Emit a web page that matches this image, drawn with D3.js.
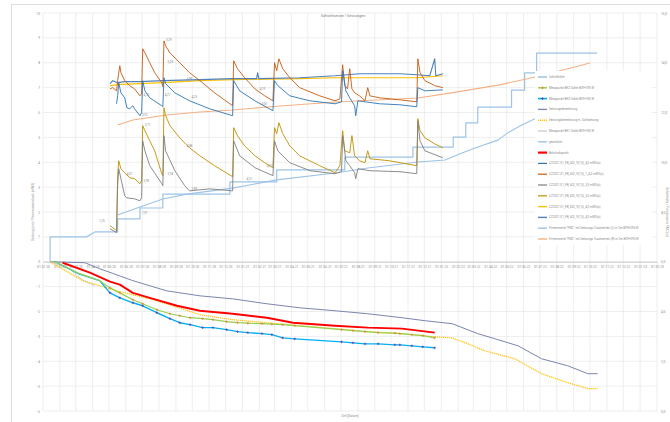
<!DOCTYPE html>
<html>
<head>
<meta charset="utf-8">
<script src="https://cdn.jsdelivr.net/npm/d3@7"></script>
<style>
  html, body { margin: 0; padding: 0; background: #fff; }
  svg { display: block; font-family: Roboto, "Open Sans", sans-serif; }
</style>
</head>
<body>
<svg id="chart" width="670" height="422"></svg>
<script>
// ---- DATA ----
const xStart = '2020-01-01';
const xEnd = '2023-02-01';
const leftTicks = d3.range(-6, 11);
const rightTicks = d3.range(0, 17, 2);

const chartTitle = 'Schichtsetzer | Setzungen';
const leftTitle = 'Setzung [cm] / Porenwasserdruck [mWS]';
const rightTitle = 'Schütthöhe / Firmenwerte FMC [m]';
const xTitle = 'Zeit [Datum]';

const legendNames = [
  'Schütthöhe',
  'Messpunkt BK2 Sohle 809+395 W',
  'Messpunkt BK3 Sohle 809+395 W',
  'Setzungsberechnung',
  'Setzungsberechnung m. Sohlsetzung',
  'Messpunkt BK1 Sohle 809+395 W',
  'geschätzt',
  'Bohrlochpunkt',
  'CZ2021.01_FB_k02_9(7,0)_4,0 mWS(s)',
  'CZ2021.01_FB_k02_9(7,0)_1_4,0 mWS(s)',
  'CZ2021.01_FB_k02_9(7,0)_3,0 mWS(s)',
  'CZ2021.01_FB_k02_9(7,0)_3,0 mWS(s)',
  'CZ2021.01_FB_k02_9(7,0)_4,0 mWS(s)',
  'CZ2021.01_FB_k02_9(7,0)_4,0 mWS(s)',
  'Firmenwerte "FMC" mit Setzungs-/Lastwerten (L) in 3m 809+395 W',
  'Firmenwerte "FMC" mit Setzungs-/Lastwerten (R) in 3m 809+395 W'
];

// right axis
const schuetthoehe = [
  ['2020-01-14', 6.0], ['2020-01-14', 7.0], ['2020-03-21', 7.0], ['2020-04-05', 7.2],
  ['2020-05-17', 7.2], ['2020-05-17', 7.72], ['2020-06-27', 7.72], ['2020-06-27', 8.16],
  ['2020-08-08', 8.16], ['2020-08-08', 8.72], ['2020-12-09', 8.72], ['2020-12-09', 9.21],
  ['2021-03-05', 9.21], ['2021-03-05', 9.69], ['2021-07-08', 9.69], ['2021-07-08', 10.21],
  ['2021-11-10', 10.21], ['2021-11-10', 10.61], ['2022-01-23', 10.61], ['2022-01-23', 11.01],
  ['2022-02-15', 11.01], ['2022-02-15', 11.58], ['2022-03-09', 11.58], ['2022-03-09', 12.22],
  ['2022-05-10', 12.22], ['2022-05-10', 12.9], ['2022-06-03', 12.9], ['2022-06-03', 13.59],
  ['2022-06-25', 13.59], ['2022-06-25', 14.39], ['2022-10-14', 14.39]
];
const fmcBlue = [
  ['2020-05-17', 7.88], ['2020-06-27', 8.2], ['2020-08-08', 8.52], ['2020-09-21', 8.72],
  ['2020-12-14', 8.96], ['2021-03-05', 9.29], ['2021-06-20', 9.57], ['2021-08-19', 9.77],
  ['2021-11-19', 10.01], ['2022-01-08', 10.09], ['2022-02-08', 10.37], ['2022-03-09', 10.61],
  ['2022-04-15', 10.89], ['2022-05-03', 11.18], ['2022-05-29', 11.5], ['2022-06-25', 11.78]
];
const fmcOrange = [
  ['2020-05-17', 11.5], ['2020-06-14', 11.7], ['2020-08-15', 11.9], ['2020-10-15', 12.02],
  ['2020-12-14', 12.1], ['2021-02-15', 12.22], ['2021-06-20', 12.42], ['2021-11-19', 12.58],
  ['2022-01-17', 12.78], ['2022-04-18', 13.11], ['2022-07-01', 13.47], ['2022-10-01', 13.99]
];

// left axis: piezometers
const czBlue = [
  ['2020-05-15', 6.35], ['2020-05-17', 6.67], ['2020-05-19', 7.2], ['2020-05-23', 6.79],
  ['2020-05-30', 6.59], ['2020-06-03', 6.19], ['2020-06-08', 6.15], ['2020-06-14', 6.27],
  ['2020-06-17', 6.15], ['2020-06-27', 5.87], ['2020-06-30', 5.99], ['2020-07-02', 7.28],
  ['2020-07-06', 6.87], ['2020-07-15', 6.59], ['2020-08-06', 6.27], ['2020-08-08', 6.23],
  ['2020-08-10', 7.4], ['2020-08-13', 7.16], ['2020-08-30', 6.79], ['2020-09-26', 6.47],
  ['2020-11-02', 6.15], ['2020-12-14', 5.87], ['2020-12-16', 7.28], ['2020-12-27', 6.87],
  ['2021-01-24', 6.47], ['2021-02-26', 6.07], ['2021-03-01', 7.28], ['2021-03-07', 7.08],
  ['2021-03-29', 6.67], ['2021-05-05', 6.47], ['2021-06-20', 6.35], ['2021-07-02', 6.43],
  ['2021-07-04', 7.68], ['2021-07-10', 6.87], ['2021-07-17', 6.59], ['2021-07-26', 6.27],
  ['2021-07-28', 5.87], ['2021-08-01', 6.47], ['2021-08-14', 6.43], ['2021-09-10', 6.35],
  ['2021-10-17', 6.31], ['2021-11-17', 6.23], ['2021-11-19', 7.0], ['2021-12-02', 6.87],
  ['2022-01-04', 6.91]
];
const czBrown = [
  ['2020-05-03', 6.95], ['2020-05-08', 7.0], ['2020-05-15', 6.87], ['2020-05-17', 7.28],
  ['2020-05-21', 7.88], ['2020-05-23', 7.6], ['2020-05-30', 7.28], ['2020-06-08', 7.08],
  ['2020-06-17', 6.95], ['2020-06-27', 6.67], ['2020-06-30', 6.75], ['2020-07-02', 8.56],
  ['2020-07-06', 8.4], ['2020-07-15', 8.0], ['2020-07-24', 7.6], ['2020-08-06', 7.2],
  ['2020-08-08', 7.04], ['2020-08-10', 8.88], ['2020-08-13', 8.68], ['2020-08-21', 8.4],
  ['2020-09-08', 8.0], ['2020-09-26', 7.6], ['2020-10-15', 7.28], ['2020-11-11', 6.79],
  ['2020-12-14', 6.27], ['2020-12-16', 8.08], ['2020-12-23', 7.76], ['2021-01-05', 7.4],
  ['2021-01-24', 6.95], ['2021-02-11', 6.67], ['2021-02-26', 6.47], ['2021-03-01', 8.0],
  ['2021-03-05', 7.68], ['2021-03-09', 8.16], ['2021-03-16', 7.76], ['2021-03-29', 7.4],
  ['2021-04-16', 7.0], ['2021-05-23', 6.67], ['2021-06-20', 6.47], ['2021-06-29', 6.55],
  ['2021-07-04', 7.92], ['2021-07-08', 7.08], ['2021-07-13', 6.95], ['2021-07-17', 7.76],
  ['2021-07-21', 6.95], ['2021-07-26', 6.79], ['2021-08-04', 6.67], ['2021-08-14', 6.47],
  ['2021-08-19', 7.0], ['2021-08-23', 6.67], ['2021-09-10', 6.59], ['2021-10-17', 6.51],
  ['2021-11-17', 6.43], ['2021-11-19', 8.16], ['2021-11-23', 7.6], ['2021-12-02', 7.28],
  ['2021-12-20', 7.08], ['2022-01-04', 7.0]
];
const czGray = [
  ['2020-05-03', 1.33], ['2020-05-15', 1.17], ['2020-05-17', 3.06], ['2020-05-19', 3.74],
  ['2020-05-23', 3.34], ['2020-05-30', 2.65], ['2020-06-03', 2.57], ['2020-06-17', 2.53],
  ['2020-06-27', 2.45], ['2020-06-30', 2.57], ['2020-07-02', 4.86], ['2020-07-06', 4.46],
  ['2020-07-15', 3.86], ['2020-08-06', 3.14], ['2020-08-08', 3.06], ['2020-08-10', 5.07],
  ['2020-08-13', 4.46], ['2020-08-30', 3.66], ['2020-09-17', 3.06], ['2020-09-26', 2.85],
  ['2020-11-02', 2.93], ['2020-12-14', 2.85], ['2020-12-16', 4.86], ['2020-12-27', 4.26],
  ['2021-01-24', 3.78], ['2021-02-26', 3.46], ['2021-03-01', 4.86], ['2021-03-07', 4.46],
  ['2021-03-29', 3.98], ['2021-05-05', 3.66], ['2021-06-20', 3.54], ['2021-07-02', 3.62],
  ['2021-07-04', 5.07], ['2021-07-10', 4.06], ['2021-07-17', 3.86], ['2021-07-26', 3.58],
  ['2021-07-28', 3.34], ['2021-08-01', 3.74], ['2021-08-23', 3.66], ['2021-10-17', 3.62],
  ['2021-11-17', 3.54], ['2021-11-19', 5.67], ['2021-11-23', 4.86], ['2021-12-02', 4.46],
  ['2022-01-04', 4.18]
];
const czGold = [
  ['2020-05-03', 1.45], ['2020-05-08', 1.37], ['2020-05-15', 1.25], ['2020-05-17', 3.46],
  ['2020-05-19', 4.06], ['2020-05-23', 3.74], ['2020-05-30', 3.58], ['2020-06-08', 3.38],
  ['2020-06-17', 3.34], ['2020-06-27', 3.14], ['2020-06-30', 3.26], ['2020-07-02', 5.47],
  ['2020-07-06', 5.27], ['2020-07-15', 4.86], ['2020-07-24', 4.46], ['2020-08-06', 3.54],
  ['2020-08-08', 3.46], ['2020-08-10', 6.19], ['2020-08-13', 5.87], ['2020-08-21', 5.47],
  ['2020-09-08', 4.98], ['2020-09-26', 4.58], ['2020-10-15', 4.26], ['2020-11-11', 3.86],
  ['2020-12-14', 3.42], ['2020-12-16', 5.39], ['2020-12-23', 5.07], ['2021-01-05', 4.66],
  ['2021-01-24', 4.26], ['2021-02-11', 3.98], ['2021-02-26', 3.78], ['2021-03-01', 5.39],
  ['2021-03-05', 5.15], ['2021-03-09', 5.59], ['2021-03-16', 5.15], ['2021-03-29', 4.66],
  ['2021-04-16', 4.26], ['2021-05-23', 3.86], ['2021-06-20', 3.58], ['2021-06-29', 3.86],
  ['2021-07-04', 5.27], ['2021-07-08', 4.46], ['2021-07-17', 4.38], ['2021-07-21', 5.07],
  ['2021-07-26', 4.26], ['2021-08-04', 4.06], ['2021-08-14', 3.98], ['2021-08-19', 4.46],
  ['2021-08-23', 4.14], ['2021-09-28', 4.06], ['2021-11-17', 3.86], ['2021-11-19', 5.75],
  ['2021-11-23', 5.27], ['2021-12-02', 4.98], ['2021-12-20', 4.74], ['2022-01-04', 4.58]
];
const czYellow = [
  ['2020-05-03', 7.08], ['2020-05-17', 7.12], ['2020-06-27', 7.16], ['2020-08-08', 7.2],
  ['2020-10-15', 7.28], ['2020-12-14', 7.32], ['2021-04-16', 7.36], ['2021-06-20', 7.4],
  ['2021-11-17', 7.4], ['2022-01-04', 7.48]
];
const czBlueFlat = [
  ['2020-05-03', 7.16], ['2020-05-08', 7.28], ['2020-05-17', 7.2], ['2020-05-30', 7.24],
  ['2020-06-27', 7.24], ['2020-08-08', 7.28], ['2020-10-15', 7.32], ['2020-12-14', 7.36],
  ['2021-01-27', 7.36], ['2021-01-29', 7.6], ['2021-01-31', 7.36], ['2021-04-16', 7.4],
  ['2021-06-20', 7.48], ['2021-08-04', 7.56], ['2021-10-17', 7.56], ['2021-11-17', 7.52],
  ['2021-12-11', 7.48], ['2021-12-20', 8.16], ['2021-12-22', 7.48], ['2022-01-04', 7.56]
];

// left axis: settlements
const setzungsberechnung = [
  ['2020-01-14', 0], ['2020-03-18', -0.04], ['2020-04-14', -0.28], ['2020-06-14', -0.76],
  ['2020-08-15', -1.17], ['2020-10-15', -1.37], ['2020-12-14', -1.49], ['2021-02-15', -1.69],
  ['2021-04-16', -1.85], ['2021-06-20', -1.97], ['2021-08-19', -2.09], ['2021-10-21', -2.25],
  ['2021-12-02', -2.37], ['2022-01-21', -2.49], ['2022-03-09', -2.89], ['2022-04-04', -3.06],
  ['2022-05-22', -3.38], ['2022-07-04', -3.9], ['2022-08-21', -4.18], ['2022-09-27', -4.5],
  ['2022-10-15', -4.5]
];
const setzungSohle = [
  ['2020-01-14', 0], ['2020-03-14', -0.76], ['2020-05-15', -1.17], ['2020-07-15', -1.49],
  ['2020-08-26', -1.77], ['2020-10-15', -2.13], ['2020-12-14', -2.33], ['2021-02-15', -2.45],
  ['2021-04-16', -2.57], ['2021-06-20', -2.69], ['2021-08-19', -2.81], ['2021-10-21', -2.89],
  ['2021-12-20', -3.02], ['2022-01-21', -3.06], ['2022-02-19', -3.3], ['2022-03-22', -3.58],
  ['2022-05-16', -3.9], ['2022-07-04', -4.5], ['2022-08-21', -4.86], ['2022-09-27', -5.1],
  ['2022-10-15', -5.1]
];
const bohrloch = [
  ['2020-02-06', -0.04], ['2020-03-27', -0.44], ['2020-05-03', -0.8], ['2020-05-21', -0.92],
  ['2020-06-14', -1.25], ['2020-07-15', -1.45], ['2020-09-03', -1.77], ['2020-10-15', -1.97],
  ['2020-12-14', -2.09], ['2021-02-15', -2.25], ['2021-04-04', -2.45], ['2021-06-20', -2.57],
  ['2021-08-19', -2.65], ['2021-10-21', -2.69], ['2021-12-20', -2.85]
];
const bk1 = [['2020-01-14', 0], ['2020-02-19', -0.28], ['2020-03-12', -0.72], ['2020-04-05', -0.96]];

const measureDates = [
  '2020-01-23', '2020-03-08', '2020-04-14', '2020-05-03', '2020-05-21', '2020-06-14',
  '2020-07-02', '2020-07-28', '2020-08-21', '2020-09-08', '2020-09-27', '2020-10-20',
  '2020-11-08', '2020-12-03', '2020-12-23', '2021-01-11', '2021-02-06', '2021-02-24',
  '2021-03-16', '2021-04-07', '2021-07-02', '2021-07-23', '2021-08-14', '2021-09-07',
  '2021-10-08', '2021-10-17', '2021-11-08', '2021-11-28', '2021-12-20'
];
const bk2Values = [0, -0.48, -0.76, -1.05, -1.25, -1.53, -1.69, -1.93, -2.09, -2.17, -2.25, -2.29,
  -2.33, -2.41, -2.45, -2.47, -2.49, -2.51, -2.53, -2.57, -2.73, -2.77, -2.81, -2.85, -2.87,
  -2.89, -2.93, -2.97, -3.06];
const bk3Values = [0, -0.5, -0.76, -1.25, -1.45, -1.65, -1.77, -2.05, -2.29, -2.45, -2.53, -2.65,
  -2.65, -2.73, -2.81, -2.85, -2.89, -2.93, -3.06, -3.1, -3.22, -3.26, -3.3, -3.3, -3.34,
  -3.34, -3.38, -3.42, -3.46];

const dataLabels = [
  ['2020-08-10', 8.88, '5,29'], ['2020-08-13', 8.0, '5,05'], ['2020-09-17', 7.3, '4,99'],
  ['2020-06-30', 6.67, '4,32'], ['2020-08-08', 6.67, '4,27'], ['2020-09-26', 6.6, '4,25'],
  ['2020-06-27', 5.87, '3,92'], ['2021-01-29', 6.9, '4,19'], ['2021-02-01', 6.3, '4,05'],
  ['2020-07-02', 5.47, '3,71'], ['2020-09-17', 4.6, '4,88'], ['2020-05-30', 3.5, '4,01'],
  ['2020-06-30', 3.2, '3,95'], ['2020-08-13', 3.5, '3,94'], ['2020-09-26', 2.9, '3,89'],
  ['2021-01-05', 3.3, '4,31'], ['2021-02-11', 3.8, '4,57'], ['2020-04-09', 1.6, '1,25'],
  ['2020-06-27', 1.9, '1,91']
];

// ---- CHART ----
const parse = d3.timeParse('%Y-%m-%d');
const svg = d3.select('#chart');
const plot = { left: 43, right: 657, top: 13, bottom: 411 };
const textColor = '#8c8c8c';

svg.append('rect').attr('width', 670).attr('height', 422).attr('fill', '#fff');
svg.append('rect')
  .attr('x', 11.5).attr('y', 4.5).attr('width', 700).attr('height', 430)
  .attr('fill', 'none').attr('stroke', '#dedede');

const x = d3.scaleTime().domain([parse(xStart), parse(xEnd)]).range([plot.left, plot.right]);
const yL = d3.scaleLinear().domain([-6, 10]).range([plot.bottom, plot.top]);
const yR = d3.scaleLinear().domain([0, 16]).range([plot.bottom, plot.top]);
const months = d3.timeMonth.range(parse(xStart), d3.timeDay.offset(parse(xEnd), 1));

// grid
const grid = svg.append('g').attr('stroke', '#e6e6e6').attr('stroke-width', 0.7);
grid.selectAll('line.h').data(leftTicks).join('line').attr('class', 'h')
  .attr('x1', plot.left).attr('x2', plot.right)
  .attr('y1', d => yL(d)).attr('y2', d => yL(d));
grid.selectAll('line.v').data(months).join('line').attr('class', 'v')
  .attr('x1', d => x(d)).attr('x2', d => x(d))
  .attr('y1', plot.top).attr('y2', plot.bottom);

// axes
const xAxis = svg.append('g')
  .attr('transform', `translate(0,${yL(0)})`)
  .call(d3.axisBottom(x).tickValues(months).tickFormat(d3.timeFormat('%d.%m.%y'))
    .tickSize(0).tickSizeOuter(0).tickPadding(3.5));
xAxis.select('.domain').attr('stroke', '#cccccc').attr('stroke-width', 1.2);

const leftAxis = svg.append('g')
  .attr('transform', `translate(${plot.left},0)`)
  .call(d3.axisLeft(yL).tickValues(leftTicks).tickSize(0).tickPadding(3));
leftAxis.select('.domain').remove();

const rightAxis = svg.append('g')
  .attr('transform', `translate(${plot.right},0)`)
  .call(d3.axisRight(yR).tickValues(rightTicks)
    .tickFormat(d => d.toFixed(1).replace('.', ',')).tickSize(0).tickPadding(4));
rightAxis.select('.domain').remove();

[xAxis, leftAxis, rightAxis].forEach(g => g
  .attr('font-family', null).attr('font-size', 3.3)
  .selectAll('text').attr('fill', textColor));

// titles
svg.append('text').attr('x', 343).attr('y', 17).attr('text-anchor', 'middle')
  .attr('font-size', 3.9).attr('fill', '#7f7f7f').text(chartTitle);
svg.append('text').attr('transform', `translate(34,${(plot.top + plot.bottom) / 2}) rotate(-90)`)
  .attr('text-anchor', 'middle').attr('font-size', 3.2).attr('fill', textColor).text(leftTitle);
svg.append('text').attr('transform', `translate(666,${(plot.top + plot.bottom) / 2}) rotate(90)`)
  .attr('text-anchor', 'middle').attr('font-size', 3.2).attr('fill', textColor).text(rightTitle);
svg.append('text').attr('x', 350).attr('y', 417).attr('text-anchor', 'middle')
  .attr('font-size', 3.2).attr('fill', textColor).text(xTitle);

// series: legend index, data, axis, style
const bk2 = measureDates.map((d, i) => [d, bk2Values[i]]);
const bk3 = measureDates.map((d, i) => [d, bk3Values[i]]);

const series = [
  { idx: 0, data: schuetthoehe, axis: yR, color: '#9dc3e6', width: 1.2 },
  { idx: 14, data: fmcBlue, axis: yR, color: '#9dc3e6', width: 1.1 },
  { idx: 15, data: fmcOrange, axis: yR, color: '#f4b183', width: 1.1 },
  { idx: 12, data: czYellow, axis: yL, color: '#ffc000', width: 1.1 },
  { idx: 13, data: czBlueFlat, axis: yL, color: '#4f81bd', width: 1.1 },
  { idx: 9, data: czBrown, axis: yL, color: '#c55a11', width: 0.9 },
  { idx: 8, data: czBlue, axis: yL, color: '#2e75b6', width: 0.9 },
  { idx: 11, data: czGold, axis: yL, color: '#bf9000', width: 0.9 },
  { idx: 10, data: czGray, axis: yL, color: '#7f7f7f', width: 0.9 },
  { idx: 3, data: setzungsberechnung, axis: yL, color: '#7b86ad', width: 1 },
  { idx: 5, data: bk1, axis: yL, color: '#bfbfbf', width: 0.8 },
  { idx: 4, data: setzungSohle, axis: yL, color: '#ffc000', width: 1.2, dash: '1.2,0.8' },
  { idx: 2, data: bk3, axis: yL, color: '#00b0f0', width: 1.4, marker: '#7030a0' },
  { idx: 1, data: bk2, axis: yL, color: '#92d050', width: 1.2, marker: '#ed7d31' },
  { idx: 7, data: bohrloch, axis: yL, color: '#ff0000', width: 1.9 }
];
const styleByIdx = {};
series.forEach(s => { styleByIdx[s.idx] = s; });
styleByIdx[6] = { color: '#9dc3e6', width: 1.1 };

const plus = 'M-1.3,0H1.3M0,-1.3V1.3';
const lines = svg.append('g').attr('fill', 'none').attr('stroke-linejoin', 'round');

series.forEach(s => {
  const line = d3.line().x(d => x(parse(d[0]))).y(d => s.axis(d[1]));
  lines.append('path')
    .attr('d', line(s.data))
    .attr('stroke', s.color)
    .attr('stroke-width', s.width)
    .attr('stroke-dasharray', s.dash || null);
  if (s.marker) {
    lines.append('g').selectAll('path').data(s.data.slice(3)).join('path')
      .attr('transform', d => `translate(${x(parse(d[0]))},${s.axis(d[1])})`)
      .attr('d', plus).attr('stroke', s.marker).attr('stroke-width', 0.7);
  }
});

// data labels
svg.append('g').selectAll('text').data(dataLabels).join('text')
  .attr('x', d => x(parse(d[0])) + 2)
  .attr('y', d => yL(d[1]))
  .attr('font-size', 3)
  .attr('fill', '#8a8a8a')
  .text(d => d[2]);

// legend
const legend = svg.append('g');
legend.append('rect').attr('x', 535).attr('y', 71).attr('width', 117).attr('height', 174).attr('fill', '#fff');
const item = legend.selectAll('g.item').data(legendNames).join('g')
  .attr('class', 'item')
  .attr('transform', (d, i) => `translate(538,${77 + i * 10.8})`);
item.append('line')
  .attr('x1', 0).attr('x2', 9)
  .attr('stroke', (d, i) => styleByIdx[i].color)
  .attr('stroke-width', (d, i) => styleByIdx[i].width + 0.3)
  .attr('stroke-dasharray', (d, i) => styleByIdx[i].dash || null);
item.filter((d, i) => styleByIdx[i].marker).append('path')
  .attr('transform', 'translate(4.5,0)')
  .attr('d', plus)
  .attr('stroke', (d, i, n) => styleByIdx[legendNames.indexOf(d)].marker)
  .attr('stroke-width', 0.8);
item.append('text')
  .attr('x', 11).attr('dy', '0.35em')
  .attr('font-size', 3)
  .attr('fill', textColor)
  .text(d => d);
</script>
</body>
</html>
